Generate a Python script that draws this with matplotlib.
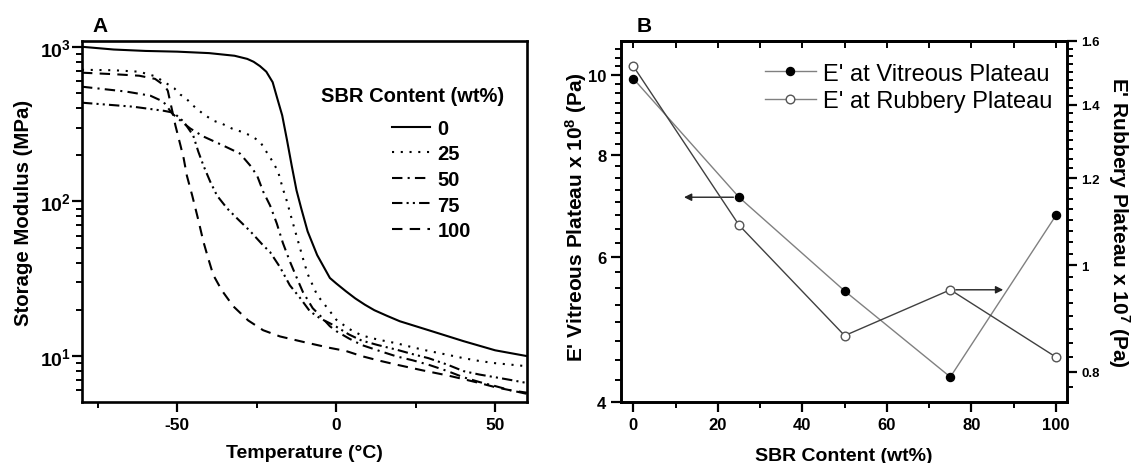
import numpy as np
import matplotlib
matplotlib.use("Agg")
import matplotlib.pyplot as plt
from matplotlib.ticker import FixedLocator, FixedFormatter, NullFormatter
from matplotlib.lines import Line2D

plt.rcParams['font.family'] = ['Liberation Sans', 'DejaVu Sans']
plt.rcParams['mathtext.fontset'] = 'custom'
plt.rcParams['mathtext.rm'] = 'Liberation Sans'
plt.rcParams['mathtext.bf'] = 'Liberation Sans:bold'
plt.rcParams['mathtext.default'] = 'bf'

# ---------------- Panel A data ----------------
T0 = [-80, -70, -60, -50, -40, -32, -28, -26, -24, -22, -20, -18.5, -17, -15.5, -14, -12.5,
      -11, -9, -6, -2, 0, 3, 6, 9, 12, 16, 20, 30, 40, 50, 60]
E0 = [1000, 960, 940, 930, 910, 875, 835, 800, 750, 690, 590, 460, 360, 250, 170, 118,
      90, 64, 45, 32, 29.5, 26.3, 23.6, 21.5, 19.8, 18.2, 16.8, 14.5, 12.5, 10.9, 10.0]

T25 = [-80, -70, -62, -57, -54, -51, -49, -47.5, -45, -42, -38.7, -35.9, -32.8, -30, -27, -24,
       -22, -20, -18.3, -16.8, -15.5, -14, -12.4, -11.4, -10.5, -9, -7.4, -6, -4, -2, 0, 4, 8,
       13, 19, 24, 29, 35, 40, 45, 50, 55, 60]
E25 = [710, 705, 690, 645, 590, 540, 490, 469, 416, 370, 333, 318, 296, 283, 267, 244,
       210, 181, 156, 121, 100, 77, 59, 50, 43, 34, 28.7, 24.8, 22, 19.5, 17.2, 15.0, 13.6,
       12.8, 12.1, 11.4, 10.8, 10.2, 9.7, 9.3, 9.0, 8.8, 8.6]

T50 = [-80, -66, -58.5, -54.4, -51.6, -48, -45.9, -41.8, -35.6, -30.3, -27.1, -24.9, -23,
       -20.8, -18.7, -16.8, -14.6, -12.4, -10.5, -7.4, -5.2, -2, 0, 4, 8, 13, 19, 24, 29, 35,
       40, 45, 50, 55, 60]
E50 = [552, 513, 483, 442, 370, 320, 296, 263, 230, 204, 171, 147, 116,
       94, 72, 54, 41, 32, 26, 20.4, 18.4, 15.6, 14.5, 13.0, 11.8, 10.9, 9.95, 9.4, 8.8, 8.0,
       7.3, 6.8, 6.4, 6.0, 5.7]

T75 = [-80, -64, -54.4, -51.2, -48, -45, -43.4, -41.8, -39.7, -37.5, -34.3, -31, -27, -23,
       -20.8, -17.7, -14.6, -11.4, -8.3, -5, -2, 0, 4, 8, 13, 19, 24, 29, 35, 40, 45, 50, 55, 60]
E75 = [435, 410, 386, 375, 328, 267, 210, 171, 135, 109, 90, 77, 64, 52,
       47, 37.6, 28.7, 23.8, 19.5, 17.5, 16.3, 15.5, 13.8, 12.6, 11.8, 11.0, 10.3, 9.7, 8.8,
       8.0, 7.6, 7.3, 7.0, 6.7]

T100 = [-80, -70, -62, -57, -54, -53, -52, -50.6, -49, -48, -47, -45.3, -43.4, -41.8, -40.3,
        -38.7, -36, -32.4, -27.7, -23, -17.7, -10, -2, 3, 8, 13, 19, 27, 35, 40, 45, 50, 55, 60]
E100 = [680, 665, 650, 620, 560, 520, 420, 310, 230, 190, 147, 109, 76, 55, 43,
        33.5, 26.6, 21, 17, 14.7, 13.4, 12.3, 11.3, 10.8, 10.0, 9.4, 8.8, 8.1, 7.5, 7.1, 6.7,
        6.3, 6.0, 5.8]

sbr_labels = ['0', '25', '50', '75', '100']

# ---------------- Panel B data ----------------
sbr = [0, 25, 50, 75, 100]
vitreous = [9.9, 7.1, 5.46, 4.29, 6.75]       # x 10^8 Pa
rubbery = [1.518, 1.088, 0.863, 0.950, 0.825]  # x 10^7 Pa

fig = plt.figure(figsize=(11.32, 4.64), dpi=100)

SPW = 1.9
lab_fs = 14

# ---------------- Panel A ----------------
axA = fig.add_axes([0.0724, 0.1315, 0.3931, 0.778])
styles = ['-', (0, (1, 3.2)), (0, (5, 2.5, 1, 2.5)), (0, (5, 2, 1, 2, 1, 2)), (0, (5, 3.5))]
curves = [(T0, E0), (T25, E25), (T50, E50), (T75, E75), (T100, E100)]
handles = []
for (t, e), ls, lab in zip(curves, styles, sbr_labels):
    h, = axA.plot(t, e, color='black', lw=1.5, linestyle=ls, label=lab)
    handles.append(h)
axA.set_yscale('log')
axA.set_xlim(-80, 60)
axA.set_ylim(5.05, 1090)
axA.set_xticks([-50, 0, 50])
axA.set_xticklabels(['-50', '0', '50'])
axA.xaxis.set_minor_locator(FixedLocator([-75, -25, 25]))
axA.yaxis.set_major_locator(FixedLocator([10, 100, 1000]))
axA.yaxis.set_major_formatter(FixedFormatter([r'$10^{1}$', r'$10^{2}$', r'$10^{3}$']))
axA.yaxis.set_minor_locator(FixedLocator([m * 10 ** k for k in [0, 1, 2] for m in range(2, 10)]))
axA.yaxis.set_minor_formatter(NullFormatter())
axA.tick_params(axis='both', which='major', direction='out', length=7, width=1.6)
axA.tick_params(axis='x', which='major', labelsize=12.5)
axA.tick_params(axis='y', which='major', labelsize=14, pad=1)
axA.tick_params(axis='both', which='minor', direction='out', length=4, width=1.4)
for lbl in axA.get_xticklabels() + axA.get_yticklabels():
    lbl.set_fontweight('bold')
for s in axA.spines.values():
    s.set_linewidth(SPW)
axA.set_xlabel('Temperature (°C)', fontsize=lab_fs, fontweight='bold', labelpad=9)
axA.set_ylabel('Storage Modulus (MPa)', fontsize=14.7, fontweight='bold', labelpad=5)
axA.yaxis.label.set_y(0.526)
axA.text(0.742, 0.848, 'SBR Content (wt%)', transform=axA.transAxes, ha='center', va='center',
         fontsize=14.5, fontweight='bold')
axA.legend(handles=handles, loc='upper left', bbox_to_anchor=(0.697, 0.785), frameon=False,
           prop={'weight': 'bold', 'size': 14.5}, handlelength=1.9, handletextpad=0.35,
           labelspacing=0.33, borderpad=0, borderaxespad=0)
fig.text(92 / 1132, 1 - 27 / 464, 'A', fontsize=15, fontweight='bold', ha='left', va='center')

# ---------------- Panel B ----------------
axB = fig.add_axes([0.5486, 0.1315, 0.3940, 0.778])
ax2 = axB.twinx()
light = '#808080'
dark = '#404040'
axB.plot(sbr, vitreous, color=light, lw=1.0, marker='o', ms=5.8, mfc='black', mec='black',
         zorder=3)
ax2.plot(sbr, rubbery, color=dark, lw=1.0, marker='o', ms=6.2, mfc='white', mec='#555555',
         mew=1.0, zorder=3)
axB.set_yscale('log')
ax2.set_yscale('log')
axB.set_xlim(-2.9, 102.6)
axB.set_ylim(4, 11.0)
ax2.set_ylim(0.751, 1.6)
axB.set_xticks([0, 20, 40, 60, 80, 100])
axB.set_xticklabels(['0', '20', '40', '60', '80', '100'])
axB.xaxis.set_minor_locator(FixedLocator([10, 30, 50, 70, 90]))
axB.yaxis.set_major_locator(FixedLocator([4, 6, 8, 10]))
axB.yaxis.set_major_formatter(FixedFormatter(['4', '6', '8', '10']))
axB.yaxis.set_minor_locator(FixedLocator(list(np.arange(4.25, 11.0, 0.25))))
axB.yaxis.set_minor_formatter(NullFormatter())
ax2.yaxis.set_major_locator(FixedLocator([0.8, 1.0, 1.2, 1.4, 1.6]))
ax2.yaxis.set_major_formatter(FixedFormatter(['0.8', '1', '1.2', '1.4', '1.6']))
ax2.yaxis.set_minor_locator(FixedLocator(list(np.arange(0.775, 1.6, 0.025))))
ax2.yaxis.set_minor_formatter(NullFormatter())
axB.tick_params(axis='both', which='major', direction='out', length=7, width=1.6, labelsize=12)
axB.tick_params(axis='both', which='minor', direction='out', length=4, width=1.4)
ax2.tick_params(axis='y', which='major', direction='out', length=7, width=1.6, labelsize=9.5)
ax2.tick_params(axis='y', which='minor', direction='out', length=4, width=1.4)
top = axB.secondary_xaxis('top')
top.set_xticks([0, 10, 20, 30, 40, 50, 60, 70, 80, 90, 100])
top.tick_params(direction='in', length=5, width=1.4, labeltop=False)
top.spines['top'].set_linewidth(SPW)
for lbl in axB.get_xticklabels() + axB.get_yticklabels() + ax2.get_yticklabels():
    lbl.set_fontweight('bold')
for a in (axB, ax2):
    for s in a.spines.values():
        s.set_linewidth(SPW)
axB.set_xlabel('SBR Content (wt%)', fontsize=lab_fs, fontweight='bold', labelpad=11)
axB.set_ylabel(r"E' Vitreous Plateau x 10$^{8}$ (Pa)", fontsize=15, fontweight='bold',
               labelpad=-1.0)
axB.yaxis.label.set_y(0.515)
ax2.set_ylabel(r"E' Rubbery Plateau x 10$^{7}$ (Pa)", fontsize=15, fontweight='bold',
               rotation=270, labelpad=22.5)

# arrows pointing to each series' axis
axB.annotate('', xy=(12, vitreous[1]), xytext=(sbr[1], vitreous[1]),
             arrowprops=dict(arrowstyle='-|>', color='#222222', lw=1.0, mutation_scale=11,
                             shrinkA=4, shrinkB=0))
ax2.annotate('', xy=(87.5, rubbery[3]), xytext=(sbr[3], rubbery[3]),
             arrowprops=dict(arrowstyle='-|>', color='#222222', lw=1.0, mutation_scale=11,
                             shrinkA=4, shrinkB=0))

hv = Line2D([], [], color=light, lw=1.0, marker='o', ms=5.8, mfc='black', mec='black')
hr = Line2D([], [], color=light, lw=1.0, marker='o', ms=6.2, mfc='white', mec='#555555', mew=1.0)
ax2.legend([hv, hr], ["E' at Vitreous Plateau", "E' at Rubbery Plateau"], loc='upper left',
           bbox_to_anchor=(0.323, 0.94), frameon=False, fontsize=17, handlelength=2.15,
           handletextpad=0.32, labelspacing=0.24, borderpad=0, borderaxespad=0)
fig.text(637 / 1132, 1 - 27 / 464, 'B', fontsize=15, fontweight='bold', ha='left', va='center')

fig.savefig('out.png', dpi=100)
